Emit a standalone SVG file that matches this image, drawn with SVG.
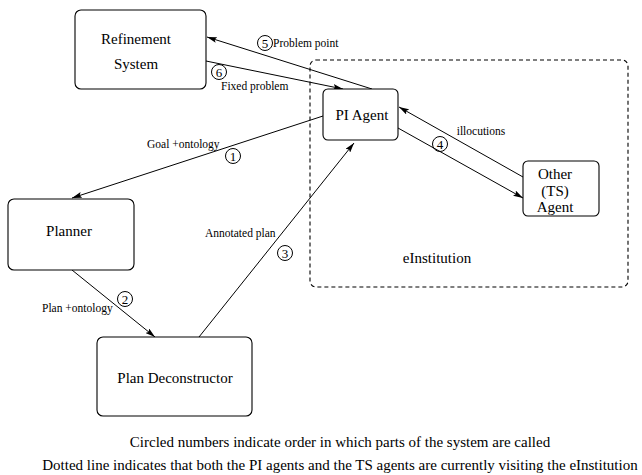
<svg xmlns="http://www.w3.org/2000/svg" width="642" height="475" viewBox="0 0 642 475">
<style>
.box{fill:#fff;stroke:#000;stroke-width:1.1}
.dash{fill:none;stroke:#000;stroke-width:1.1;stroke-dasharray:4 3}
.ln{fill:none;stroke:#000;stroke-width:1;marker-end:url(#ah)}
.t{font-family:"Liberation Serif",serif;font-size:15px;fill:#000;text-anchor:middle}
.s{font-family:"Liberation Serif",serif;font-size:11.5px;fill:#000}
.n{font-family:"Liberation Serif",serif;font-size:13px;fill:#000;text-anchor:middle}
.c{fill:none;stroke:#000;stroke-width:1}
.cap{font-family:"Liberation Serif",serif;font-size:15px;fill:#000;text-anchor:middle}
</style>
<defs>
<marker id="ah" viewBox="0 0 10 6" refX="10" refY="3" markerWidth="10" markerHeight="6" markerUnits="userSpaceOnUse" orient="auto">
<path d="M0,0 L10,3 L0,6 L2,3 Z" fill="#000"/>
</marker>
</defs>
<rect width="642" height="475" fill="#fff"/>
<g id="einstitution">
<rect class="dash" x="310" y="60" width="318" height="227" rx="6"/>
<text class="t" x="437" y="263">eInstitution</text>
</g>
<g id="connectors">
<line class="ln" x1="372" y1="89" x2="207" y2="37"/>
<line class="ln" x1="206" y1="61" x2="343" y2="89"/>
<line class="ln" x1="323" y1="116" x2="72" y2="198"/>
<line class="ln" x1="72" y1="270" x2="155" y2="337"/>
<line class="ln" x1="199" y1="337" x2="354" y2="143"/>
<line class="ln" x1="523" y1="177" x2="399" y2="107"/>
<line class="ln" x1="398" y1="128" x2="523" y2="198"/>
<circle class="c" cx="265" cy="43" r="7.5"/><text class="n" x="265" y="47.5">5</text>
<text class="s" x="273" y="47">Problem point</text>
<circle class="c" cx="219" cy="72" r="7.5"/><text class="n" x="219" y="76.5">6</text>
<text class="s" x="221" y="90">Fixed problem</text>
<text class="s" x="147" y="148">Goal +ontology</text>
<circle class="c" cx="233" cy="156" r="7.5"/><text class="n" x="233" y="160.5">1</text>
<text class="s" x="205" y="237">Annotated plan</text>
<circle class="c" cx="285" cy="253" r="7.5"/><text class="n" x="285" y="257.5">3</text>
<circle class="c" cx="125" cy="299" r="7.5"/><text class="n" x="125" y="303.5">2</text>
<text class="s" x="42" y="312">Plan +ontology</text>
<circle class="c" cx="440" cy="144" r="7.5"/><text class="n" x="440" y="148.5">4</text>
<text class="s" x="481" y="135" text-anchor="middle">illocutions</text>
</g>
<g id="refinement">
<rect class="box" x="75" y="10" width="131" height="79" rx="6"/>
<text class="t" x="136" y="44">Refinement</text>
<text class="t" x="136" y="69">System</text>
</g>
<g id="pi-agent">
<rect class="box" x="323" y="89" width="75" height="51" rx="5"/>
<text class="t" x="362" y="120">PI Agent</text>
</g>
<g id="other-agent">
<rect class="box" x="523" y="161" width="76" height="55" rx="5"/>
<text class="t" x="555" y="179">Other</text>
<text class="t" x="555" y="196">(TS)</text>
<text class="t" x="555" y="212">Agent</text>
</g>
<g id="planner">
<rect class="box" x="8" y="199" width="126" height="71" rx="6"/>
<text class="t" x="69" y="236">Planner</text>
</g>
<g id="plan-deconstructor">
<rect class="box" x="97" y="337" width="155" height="79" rx="6"/>
<text class="t" x="175" y="383">Plan Deconstructor</text>
</g>
<g id="captions">
<text class="cap" x="340" y="447">Circled numbers indicate order in which parts of the system are called</text>
<text class="cap" x="340" y="470">Dotted line indicates that both the PI agents and the TS agents are currently visiting the eInstitution</text>
</g>
</svg>
